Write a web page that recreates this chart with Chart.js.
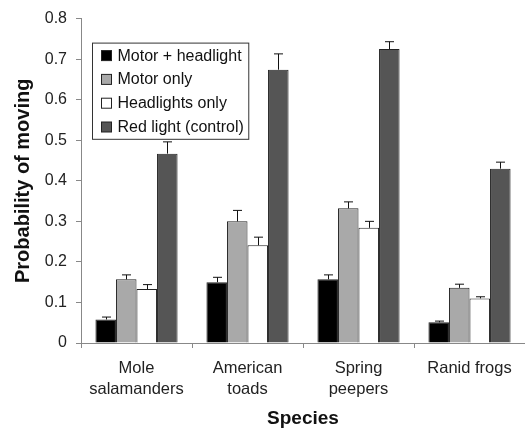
<!DOCTYPE html>
<html>
<head>
<meta charset="utf-8">
<script src="https://cdn.jsdelivr.net/npm/chart.js@4"></script>
<style>
  body { margin: 0; background: #fff; }
  #wrap { width: 525px; height: 430px; }
</style>
</head>
<body>
<div id="wrap"><canvas id="movingChart"></canvas></div>
<script>
// data
const species = [['Mole', 'salamanders'], ['American', 'toads'], ['Spring', 'peepers'], 'Ranid frogs'];
const treatments = ['Motor + headlight', 'Motor only', 'Headlights only', 'Red light (control)'];
const motorHeadlight = [0.058, 0.150, 0.157, 0.051];
const motorHeadlightErr = [0.006, 0.012, 0.011, 0.003];
const motorOnly = [0.157, 0.300, 0.332, 0.136];
const motorOnlyErr = [0.011, 0.027, 0.016, 0.009];
const headlightsOnly = [0.133, 0.241, 0.284, 0.110];
const headlightsOnlyErr = [0.011, 0.020, 0.016, 0.004];
const redLight = [0.467, 0.674, 0.725, 0.430];
const redLightErr = [0.029, 0.039, 0.018, 0.016];
const yTicks = [0, 0.1, 0.2, 0.3, 0.4, 0.5, 0.6, 0.7, 0.8];

const barColors = ['#000000', '#a9a9a9', '#ffffff', '#555555'];
const FONT = "Arial, 'Liberation Sans', sans-serif";

// draws the upper error whisker with a cap on each bar
const errorBars = {
    id: 'errorBars',
    afterDatasetsDraw(chart) {
        const ctx = chart.ctx;
        const yScale = chart.scales.y;
        ctx.save();
        ctx.strokeStyle = '#111';
        ctx.lineWidth = 1;
        chart.data.datasets.forEach((ds, i) => {
            const meta = chart.getDatasetMeta(i);
            meta.data.forEach((bar, j) => {
                const top = yScale.getPixelForValue(ds.data[j] + ds.errors[j]);
                const x = Math.round(bar.x) + 0.5;
                ctx.beginPath();
                ctx.moveTo(x, bar.y);
                ctx.lineTo(x, top);
                ctx.moveTo(x - 4.5, top);
                ctx.lineTo(x + 4.5, top);
                ctx.stroke();
            });
        });
        ctx.restore();
    }
};

// boxed legend inside the plot, top left
const boxLegend = {
    id: 'boxLegend',
    afterDraw(chart) {
        const ctx = chart.ctx;
        const area = chart.chartArea;
        const left = area.left + 11.5;
        const top = area.top + 24.5;
        const rowH = 23.8;
        ctx.save();
        ctx.font = '16px ' + FONT;
        let maxW = 0;
        chart.data.datasets.forEach(ds => { maxW = Math.max(maxW, ctx.measureText(ds.label).width); });
        const w = 25 + maxW + 5;
        const h = rowH * chart.data.datasets.length + 1;
        ctx.fillStyle = '#fff';
        ctx.fillRect(left, top, w, h);
        ctx.strokeStyle = '#333';
        ctx.lineWidth = 1;
        ctx.strokeRect(left, top, w, h);
        ctx.textBaseline = 'middle';
        chart.data.datasets.forEach((ds, i) => {
            const cy = top + 12.5 + i * rowH;
            ctx.fillStyle = ds.backgroundColor;
            ctx.fillRect(left + 9, cy - 5, 10, 10);
            ctx.strokeStyle = '#222';
            ctx.strokeRect(left + 9, cy - 5, 10, 10);
            ctx.fillStyle = '#111';
            ctx.fillText(ds.label, left + 25, cy + 0.5);
        });
        ctx.restore();
    }
};

const seriesValues = [motorHeadlight, motorOnly, headlightsOnly, redLight];
const seriesErrors = [motorHeadlightErr, motorOnlyErr, headlightsOnlyErr, redLightErr];

new Chart(document.getElementById('movingChart'), {
    type: 'bar',
    data: {
        labels: species,
        datasets: treatments.map((name, i) => ({
            label: name,
            data: seriesValues[i],
            errors: seriesErrors[i],
            backgroundColor: barColors[i],
            borderColor: '#222',
            borderWidth: 1,
            barPercentage: 1,
            categoryPercentage: 0.74
        }))
    },
    options: {
        responsive: true,
        maintainAspectRatio: false,
        animation: false,
        layout: { padding: { top: 15, right: 0, bottom: 0, left: 0 } },
        plugins: {
            legend: { display: false },
            tooltip: { enabled: false }
        },
        scales: {
            x: {
                afterFit: s => { s.height = 87; },
                grid: { offset: true, drawOnChartArea: false, tickLength: 5, color: '#888' },
                border: { color: '#888' },
                ticks: { color: '#222', padding: 10, font: { family: FONT, size: 16.5, lineHeight: 1.27 } },
                title: {
                    display: true, text: 'Species', color: '#111',
                    padding: { top: 0, bottom: 0 },
                    font: { family: FONT, size: 19, weight: 'bold' }
                }
            },
            y: {
                min: 0,
                max: 0.8,
                afterFit: s => { s.width = 81; },
                afterBuildTicks: s => { s.ticks = yTicks.map(v => ({ value: v })); },
                grid: { drawOnChartArea: false, tickLength: 5, color: '#888' },
                border: { color: '#888' },
                ticks: { color: '#222', padding: 9, font: { family: FONT, size: 16 } },
                title: {
                    display: true, text: 'Probability of moving', color: '#111',
                    padding: { top: 11, bottom: 0 },
                    font: { family: FONT, size: 20, weight: 'bold' }
                }
            }
        }
    },
    plugins: [errorBars, boxLegend]
});
</script>
</body>
</html>
